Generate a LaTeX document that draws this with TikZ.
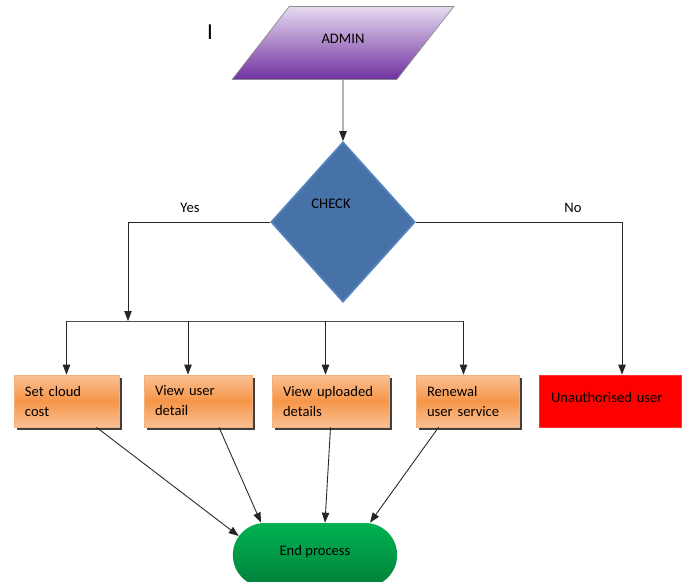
\documentclass[tikz,border=0pt]{standalone}
\usepackage{fontspec}
\setmainfont{Carlito}
\usetikzlibrary{positioning,arrows.meta,shapes.geometric,shapes.misc,shadows}
\definecolor{admintop}{RGB}{230,218,239}
\definecolor{adminbot}{RGB}{112,48,160}
\definecolor{checkblue}{RGB}{70,114,168}
\definecolor{bevelblue}{RGB}{84,132,190}
\definecolor{orangemid}{RGB}{246,150,72}
\definecolor{orangelight}{RGB}{250,192,150}
\definecolor{orangeedge}{RGB}{248,176,120}
\definecolor{endtop}{RGB}{0,178,82}
\definecolor{endbot}{RGB}{0,128,58}

\begin{document}
\begin{tikzpicture}[
  font=\fontsize{8.3}{11.4}\selectfont,
  admin/.style={trapezium,trapezium left angle=52,trapezium right angle=128,draw=black!45,top color=admintop,bottom color=adminbot,text width=2.15cm,align=center,inner xsep=0pt,inner ysep=0.5625cm,text height=1.7ex,text depth=0.3ex},
  check/.style={diamond,draw=bevelblue,line width=1pt,fill=checkblue,minimum width=2.88cm,minimum height=3.2cm,inner sep=0pt},
  task/.style={rectangle,draw=orangeedge,top color=orangelight,bottom color=orangelight,middle color=orangemid,minimum height=1.04cm,inner xsep=0.22cm,align=left,drop shadow={shadow xshift=0.05cm,shadow yshift=-0.05cm,fill=black!75,opacity=1}},
  deny/.style={rectangle,draw=red!80,fill=red,minimum height=1.04cm,minimum width=2.84cm,inner xsep=0.24cm,text width=2.36cm,align=left},
  stop/.style={rounded rectangle,top color=endtop,bottom color=endbot,minimum width=3.52cm,minimum height=1.28cm},
  arrow/.style={-{Triangle[length=0.2cm,width=0.15cm]},black!85,line width=0.5pt},
  line/.style={black!70,line width=0.5pt}
]
\clip (0,0) rectangle (13.66,-11.62);

\node[font=\fontsize{13}{15}\selectfont] (stray) at (4.2,-0.64) {I};

\node[admin] (ADMIN) at (6.86,-0.86) {\raisebox{0.1cm}{ADMIN}};
\node[check,label={[xshift=-0.24cm,yshift=0.36cm]center:CHECK}] (CHK) at (6.86,-4.44) {};

\node (yes) at (3.8,-4.16) {Yes};
\node (no) at (11.46,-4.16) {No};

\coordinate (J) at (2.56,-6.42);

\node[task,minimum width=2.1cm,text width=1.66cm] (S1) at (1.33,-8.02) {Set cloud\\cost};
\node[task,minimum width=2.16cm,text width=1.72cm] (S2) at (3.96,-8.02) {View user\\detail};
\node[task,minimum width=2.34cm,text width=1.9cm] (S3) at (6.61,-8.02) {View uploaded\\details};
\node[task,minimum width=2.06cm,text width=1.62cm] (S4) at (9.35,-8.02) {Renewal\\user service};
\node[deny] (R) at (12.2,-8.02) {\raisebox{0.16cm}{Unauthorised user}};

\node[stop] (EP) at (6.3,-11.1) {\raisebox{0.18cm}{End process}};

\draw[arrow] (ADMIN) -- (CHK);
\draw[arrow] (CHK.west) -| (J);
\draw[line] (S1.north |- J) -- ([xshift=-0.08cm]S4.north |- J);
\foreach \b/\dx in {S1/0,S2/-0.2,S3/-0.1,S4/-0.08}
  \draw[arrow] ([xshift=\dx cm]\b.north |- J) -- ([xshift=\dx cm]\b.north);
\draw[arrow] (CHK.east) -| ([xshift=0.24cm]R.north);

\draw[arrow] ([xshift=0.6cm]S1.south) -- (EP.166);
\draw[arrow] ([xshift=0.42cm]S2.south) -- ([xshift=-1.08cm]EP.north);
\draw[arrow] (S3.south) -- ([xshift=0.2cm]EP.north);
\draw[arrow] ([xshift=-0.58cm]S4.south) -- ([xshift=1.1cm]EP.north);

\end{tikzpicture}
\end{document}
